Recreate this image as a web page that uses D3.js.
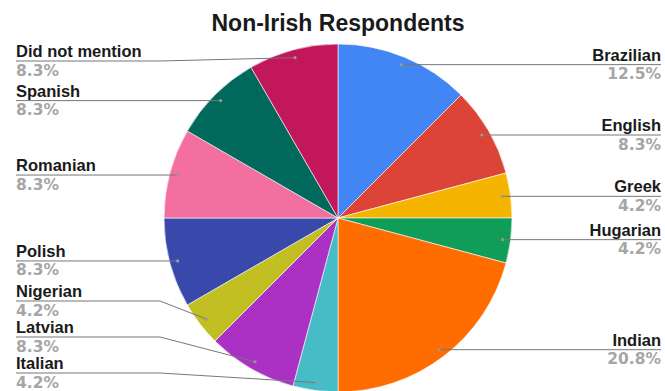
<!DOCTYPE html>
<html>
<head>
<meta charset="utf-8">
<script src="https://cdn.jsdelivr.net/npm/d3@7"></script>
<style>
  html, body { margin: 0; padding: 0; background: #fff; }
  svg { display: block; }
</style>
</head>
<body>
<svg id="chart" width="665" height="391"></svg>
<script>
// Nationality of non-Irish respondents (counts out of 24)
const categories = ["Brazilian", "English", "Greek", "Hugarian", "Indian", "Italian",
                    "Latvian", "Nigerian", "Polish", "Romanian", "Spanish", "Did not mention"];
const counts = [3, 2, 1, 1, 5, 1, 2, 1, 2, 2, 2, 2];
const percentLabels = ["12.5%", "8.3%", "4.2%", "4.2%", "20.8%", "4.2%",
                       "8.3%", "4.2%", "8.3%", "8.3%", "8.3%", "8.3%"];
const colors = ["#4285F4", "#DB4437", "#F4B400", "#0F9D58", "#FF6D00", "#46BDC6",
                "#AB30C4", "#C1BF22", "#3949AB", "#F26F9F", "#00695C", "#C2185B"];

const W = 665, H = 391;
const cx = 338, cy = 218, R = 174;
const dotR = 166;            // radius where leader lines start
const elbowOffset = 178;     // horizontal distance of the leader elbow from centre
const leftX = 16, rightX = 661;
const nameFont = "'Liberation Sans', Arial, sans-serif";
const pctFont = "'DejaVu Sans', Verdana, sans-serif";

const svg = d3.select("#chart");

svg.append("text")
  .attr("x", cx).attr("y", 31)
  .attr("text-anchor", "middle")
  .attr("font-family", nameFont)
  .attr("font-weight", "bold")
  .attr("font-size", 23)
  .attr("fill", "#1a1a1a")
  .text("Non-Irish Respondents");

const data = categories.map((c, i) => ({ name: c, value: counts[i], pct: percentLabels[i], color: colors[i] }));

const pie = d3.pie().sort(null).value(d => d.value);
const arcs = pie(data);
const arc = d3.arc().innerRadius(0).outerRadius(R);

const g = svg.append("g").attr("transform", `translate(${cx},${cy})`);
g.selectAll("path.slice")
  .data(arcs)
  .join("path")
  .attr("class", "slice")
  .attr("d", arc)
  .attr("fill", d => d.data.color)
  .attr("stroke", "#fff")
  .attr("stroke-width", 0.6);

// Leader anchor points
const dotArc = d3.arc().innerRadius(dotR).outerRadius(dotR);
const labels = arcs.map(a => {
  const [x, y] = dotArc.centroid(a);
  const mid = (a.startAngle + a.endAngle) / 2;
  return { a, x: cx + x, y: cy + y, side: mid < Math.PI ? "right" : "left", ly: cy + y };
});

// Keep label blocks apart on each side
const gap = 36, minY = 61, maxY = 373;
["left", "right"].forEach(side => {
  const s = labels.filter(l => l.side === side).sort((p, q) => p.ly - q.ly);
  for (let i = 0; i < s.length; i++) {
    s[i].ly = Math.max(s[i].ly, minY, i ? s[i - 1].ly + gap : minY);
  }
  for (let i = s.length - 1; i >= 0; i--) {
    s[i].ly = Math.min(s[i].ly, i < s.length - 1 ? s[i + 1].ly - gap : maxY);
  }
});

const lg = svg.append("g");
labels.forEach(l => {
  const right = l.side === "right";
  const elbowX = right ? cx + elbowOffset : cx - elbowOffset;
  const endX = right ? rightX : leftX;
  lg.append("polyline")
    .attr("points", `${l.x},${l.y} ${elbowX},${l.ly} ${endX},${l.ly}`)
    .attr("fill", "none")
    .attr("stroke", "#777")
    .attr("stroke-width", 1);
  lg.append("circle")
    .attr("cx", l.x).attr("cy", l.y).attr("r", 1.6)
    .attr("fill", "#999");
  lg.append("text")
    .attr("x", endX).attr("y", l.ly - 4)
    .attr("text-anchor", right ? "end" : "start")
    .attr("font-family", nameFont)
    .attr("font-weight", "bold")
    .attr("font-size", 16.5)
    .attr("fill", "#1a1a1a")
    .text(l.a.data.name);
  lg.append("text")
    .attr("x", endX).attr("y", l.ly + 14.5)
    .attr("text-anchor", right ? "end" : "start")
    .attr("font-family", pctFont)
    .attr("font-weight", "bold")
    .attr("font-size", 15.5)
    .attr("fill", "#a6a6a6")
    .text(l.a.data.pct);
});
</script>
</body>
</html>
